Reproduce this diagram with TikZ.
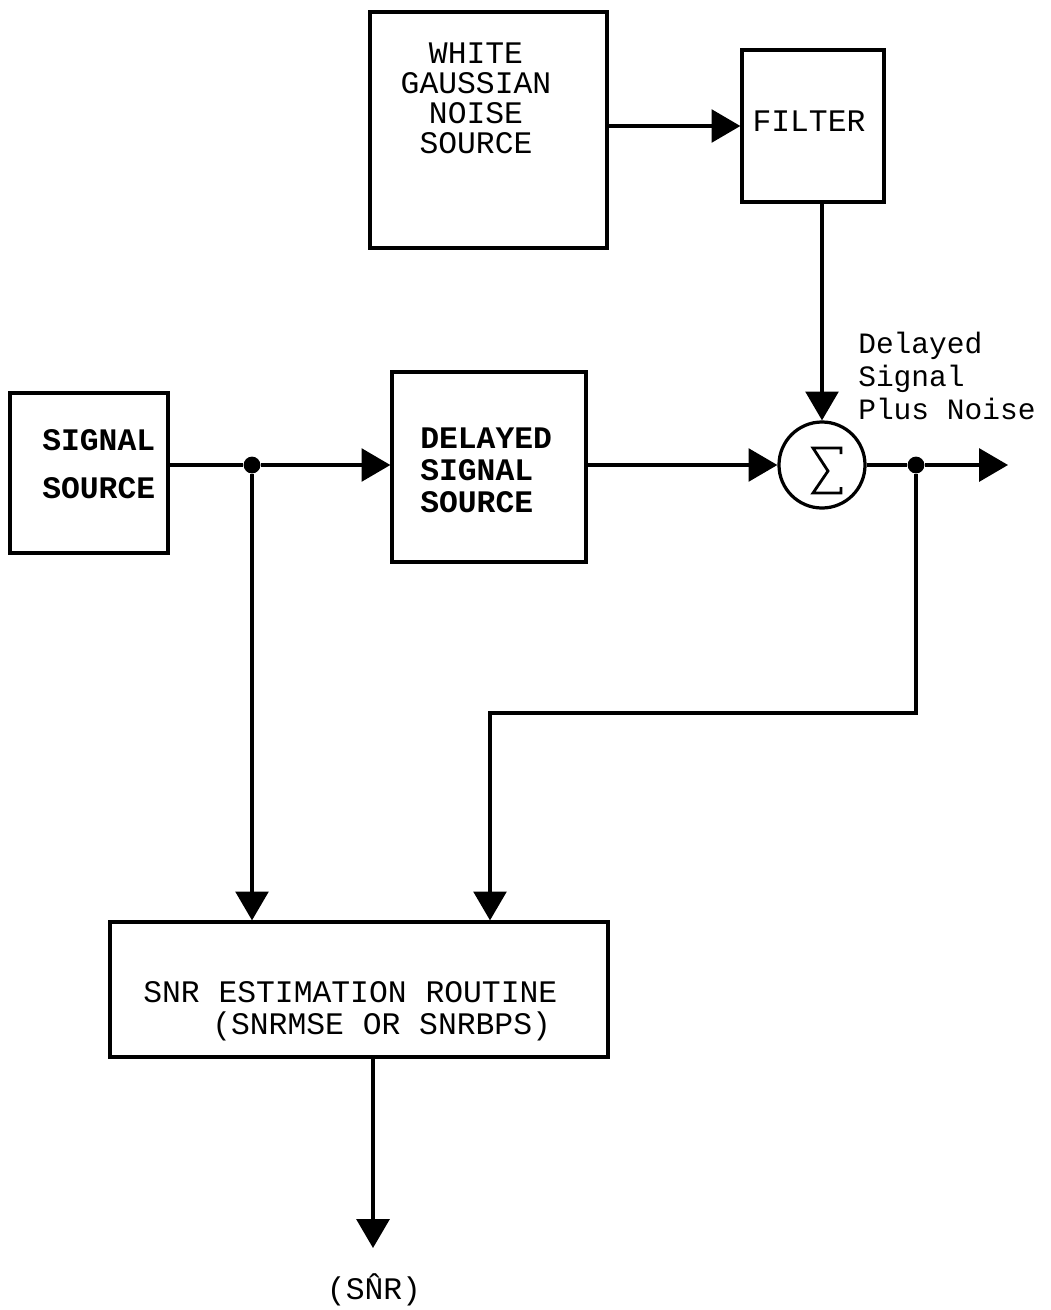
\documentclass[tikz,border=0pt]{standalone}
\usepackage{fontspec}
\newfontfamily\twfont{Liberation Mono}
\usetikzlibrary{arrows.meta}
\begin{document}
\begin{tikzpicture}[x=0.025cm,y=-0.025cm,
  box/.style={draw, line width=2.3pt, inner sep=0pt},
  wire/.style={line width=2.3pt},
  arr/.style={wire, -{Triangle[length=0.72cm, width=0.82cm]}},
  txt/.style={font=\twfont\fontsize{22.3}{22.7}\selectfont, inner sep=0pt},
  dot/.style={circle, fill, inner sep=0pt, minimum size=0.42cm}
]
\useasboundingbox (0,0) rectangle (1051,1310);

% boxes
\node[box, minimum width=5.925cm, minimum height=5.9cm] (wgn) at (488.5,130) {};
\node[box, minimum width=3.55cm, minimum height=3.8cm] (filt) at (813,126) {};
\node[box, minimum width=3.95cm, minimum height=4.0cm] (sig) at (89,473) {};
\node[box, minimum width=4.85cm, minimum height=4.75cm] (del) at (489,467) {};
\node[box, minimum width=12.45cm, minimum height=3.375cm] (snr) at (359,989.5) {};
\node[draw, circle, line width=2.3pt, minimum size=2.15cm, inner sep=0pt] (sum) at (822,465) {};

% texts
\node[txt, align=center, font=\twfont\fontsize{22.3}{21.3}\selectfont] (wgntxt) at (476,98) {WHITE\\GAUSSIAN\\NOISE\\SOURCE};
\node[txt] (filttxt) at (809,121) {FILTER};
\node[txt, align=left, anchor=west, font=\twfont\bfseries\fontsize{22.3}{34}\selectfont] (sigtxt) at (42,464) {SIGNAL\\SOURCE};
\node[txt, align=left, anchor=west, font=\twfont\bfseries\fontsize{22.3}{22.7}\selectfont] (deltxt) at (420,470) {DELAYED\\SIGNAL\\SOURCE};
\node[txt, align=left, anchor=west, font=\twfont\fontsize{21}{23.5}\selectfont] (outlbl) at (858,376) {Delayed\\Signal\\Plus Noise};
\node[txt, align=left, anchor=west] (snrtxt) at (143,1011) {SNR ESTIMATION ROUTINE\\\hspace*{2.2em}(SNRMSE OR SNRBPS)};
\node[txt] (snrhat) at (374,1290) {(S\^{N}R)};

% sigma
\begin{scope}[shift={(sum.center)}]
  \draw[line width=2pt, line join=miter] (19,-11) -- (19,-17) -- (-9,-17) -- (6,6) -- (-9,28) -- (19,28) -- (19,22);
\end{scope}

% junctions and free ends
\node[dot] (j1) at (252,465) {};
\node[dot] (j2) at (916,465) {};
\coordinate (outend) at (1008,465);
\coordinate (fb1) at (916,713);
\coordinate (fb2) at (490,713);
\coordinate (snrout) at (373,1248);

% connectors
\draw[arr] (wgn.east |- filt.west) -- (filt.west);
\draw[arr] (filt.south -| sum.north) -- (sum.north);
\draw[wire] (sig.east |- j1) -- (j1);
\draw[arr] (j1) -- (del.west |- j1);
\draw[arr] (del.east |- sum.west) -- (sum.west);
\draw[wire] (sum.east) -- (j2);
\draw[arr] (j2) -- (outend);
\draw[arr] (j1) -- (j1 |- snr.north);
\draw[arr] (j2) -- (fb1) -- (fb2) -- (fb2 |- snr.north);
\draw[arr] (snr.south -| snrout) -- (snrout);
\end{tikzpicture}
\end{document}
